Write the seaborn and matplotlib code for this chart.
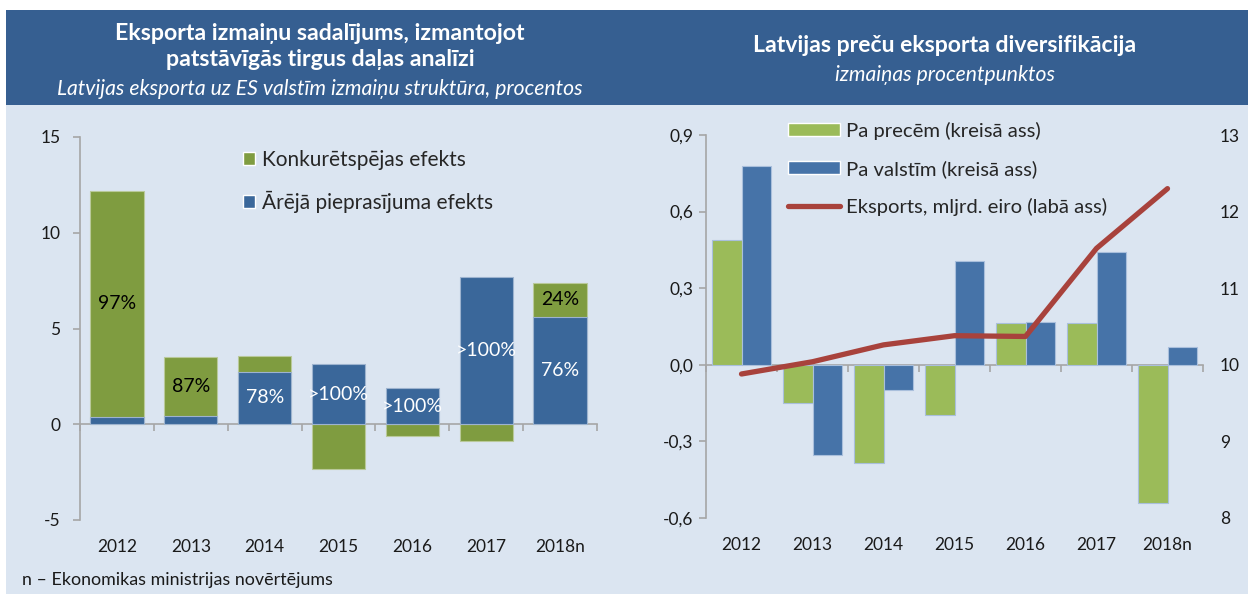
import numpy as np
import pandas as pd
import matplotlib.pyplot as plt
import seaborn as sns
from matplotlib.patches import Patch, Rectangle
from matplotlib.lines import Line2D
from matplotlib.ticker import FuncFormatter

# dati
gadi = ['2012', '2013', '2014', '2015', '2016', '2017', '2018n']

# kreisais grafiks: eksporta izmaiņu sadalījums
konkurētspēja = [11.8, 3.05, 0.8, -2.35, -0.6, -0.9, 1.8]
pieprasījums = [0.4, 0.45, 2.75, 3.15, 1.9, 7.7, 5.6]
zaļās_etiķetes = ['97%', '87%', '', '', '', '', '24%']
zilās_etiķetes = ['', '', '78%', '>100%', '>100%', '>100%', '76%']

# labais grafiks: diversifikācija
pa_precēm = [0.49, -0.15, -0.385, -0.196, 0.165, 0.165, -0.54]
pa_valstīm = [0.78, -0.352, -0.098, 0.408, 0.168, 0.44, 0.068]
eksports = [9.88, 10.04, 10.26, 10.38, 10.37, 11.52, 12.30]

# krāsas
HEADER = '#365F91'
FONS = '#DBE5F1'
ZAĻŠ_K = '#7F9C40'
ZILS_K = '#3A679A'
ZAĻŠ_L = '#9BBB59'
ZILS_L = '#4673A8'
SARKANS = '#A8423C'
PELĒKS = '#A6A6A6'
TEKSTS = '#1a1a1a'

sns.set_theme(style='white')
plt.rcParams['font.family'] = ['Lato', 'DejaVu Sans']
plt.rcParams['axes.unicode_minus'] = False

W, H = 1248, 594
fig = plt.figure(figsize=(W / 100, H / 100), dpi=100)
fig.patch.set_facecolor('white')

# fons un galvenes
fig.patches.append(Rectangle((6 / W, 0), 1 - 6 / W, 1 - 10 / H, transform=fig.transFigure,
                             facecolor=FONS, edgecolor='none', zorder=-10))
fig.patches.append(Rectangle((6 / W, 1 - 105 / H), 1 - 6 / W, 95 / H, transform=fig.transFigure,
                             facecolor=HEADER, edgecolor='none', zorder=-9))

fig.text(320 / W, 1 - 33 / H, 'Eksporta izmaiņu sadalījums, izmantojot', color='white',
         fontsize=16.7, fontweight='bold', ha='center', va='center')
fig.text(320 / W, 1 - 60 / H, 'patstāvīgās tirgus daļas analīzi', color='white',
         fontsize=16.7, fontweight='bold', ha='center', va='center')
fig.text(320 / W, 1 - 89 / H, 'Latvijas eksporta uz ES valstīm izmaiņu struktūra, procentos',
         color='white', fontsize=15.2, fontstyle='italic', ha='center', va='center')
fig.text(945 / W, 1 - 46 / H, 'Latvijas preču eksporta diversifikācija', color='white',
         fontsize=16.6, fontweight='bold', ha='center', va='center')
fig.text(945 / W, 1 - 75 / H, 'izmaiņas procentpunktos', color='white',
         fontsize=15.2, fontstyle='italic', ha='center', va='center')
fig.text(22 / W, 1 - 580 / H, 'n – Ekonomikas ministrijas novērtējums', color=TEKSTS,
         fontsize=12.9, ha='left', va='center')

# ---------- kreisais grafiks ----------
ax1 = fig.add_axes([80 / W, (H - 520) / H, 517 / W, 383 / H])
ax1.patch.set_alpha(0)

kopā = [b + g if g > 0 else g for b, g in zip(pieprasījums, konkurētspēja)]
df_k = pd.DataFrame({'gads': gadi, 'zaļš': kopā, 'zils': pieprasījums})
sns.barplot(data=df_k, x='gads', y='zaļš', color=ZAĻŠ_K, saturation=1, width=0.72,
            edgecolor='#B9C99A', linewidth=0.8, ax=ax1)
sns.barplot(data=df_k, x='gads', y='zils', color=ZILS_K, saturation=1, width=0.72,
            edgecolor='#9DB3CF', linewidth=0.8, ax=ax1)

for i, (b, g) in enumerate(zip(pieprasījums, konkurētspēja)):
    if zaļās_etiķetes[i]:
        ax1.text(i, b + g / 2, zaļās_etiķetes[i], ha='center', va='center', fontsize=14, color='black')
    if zilās_etiķetes[i]:
        ax1.text(i, b / 2, zilās_etiķetes[i], ha='center', va='center', fontsize=14, color='white')

ax1.set_xlim(-0.5, 6.5)
ax1.set_ylim(-5, 15)
ax1.set_yticks([-5, 0, 5, 10, 15])
ax1.set_xlabel('')
ax1.set_ylabel('')

legend_k = [Patch(facecolor=ZAĻŠ_K, label='Konkurētspējas efekts'),
            Patch(facecolor=ZILS_K, label='Ārējā pieprasījuma efekts')]
ax1.legend(handles=legend_k, loc='upper left', bbox_to_anchor=(0.315, 0.967), frameon=False,
           fontsize=15, handlelength=0.6, handleheight=0.6, handletextpad=0.3,
           labelspacing=1.0, borderaxespad=0, borderpad=0)

# ---------- labais grafiks ----------
ax2 = fig.add_axes([706 / W, (H - 518) / H, 497 / W, 383 / H])
ax2.patch.set_alpha(0)

df_l = pd.DataFrame({'gads': gadi * 2,
                     'rādītājs': ['Pa precēm'] * 7 + ['Pa valstīm'] * 7,
                     'vērtība': pa_precēm + pa_valstīm})
sns.barplot(data=df_l, x='gads', y='vērtība', hue='rādītājs', palette=[ZAĻŠ_L, ZILS_L],
            saturation=1, width=0.83, edgecolor='#A9BFDC', linewidth=0.8, legend=False, ax=ax2)
ax2.set_xlim(-0.5, 6.5)
ax2.set_ylim(-0.6, 0.9)
ax2.set_yticks([-0.6, -0.3, 0.0, 0.3, 0.6, 0.9])
ax2.yaxis.set_major_formatter(FuncFormatter(lambda v, p: f'{v:.1f}'.replace('.', ',')))
ax2.set_xlabel('')
ax2.set_ylabel('')

ax3 = ax2.twinx()
sns.lineplot(x=np.arange(len(gadi)), y=eksports, color=SARKANS, linewidth=3.8,
             solid_capstyle='round', ax=ax3)
ax3.set_ylim(8, 13)
ax3.set_yticks([8, 9, 10, 11, 12, 13])
ax3.set_xlim(-0.5, 6.5)
for s in ax3.spines.values():
    s.set_visible(False)
ax3.tick_params(axis='y', length=0, pad=12, labelsize=12.5, labelcolor=TEKSTS)

legend_l = [Patch(facecolor=ZAĻŠ_L, label='Pa precēm (kreisā ass)'),
            Patch(facecolor=ZILS_L, label='Pa valstīm (kreisā ass)'),
            Line2D([0], [0], color=SARKANS, lw=3.8, solid_capstyle='round',
                   label='Eksports, mljrd. eiro (labā ass)')]
ax3.legend(handles=legend_l, loc='upper left', bbox_to_anchor=(0.165, 1.035), frameon=False,
           fontsize=14.6, handlelength=2.55, handleheight=0.6, handletextpad=0.3,
           labelspacing=1.0, borderaxespad=0, borderpad=0)

# asu stils abiem grafikiem
for ax, nulle, pad_y in [(ax1, 0.25, 9), (ax2, 0.4, 4)]:
    for s in ['top', 'right', 'bottom']:
        ax.spines[s].set_visible(False)
    ax.spines['left'].set_color(PELĒKS)
    ax.spines['left'].set_linewidth(1.2)
    ax.tick_params(axis='y', direction='out', length=5, width=1.2, color=PELĒKS,
                   pad=pad_y, labelsize=12.5, labelcolor=TEKSTS, left=True)
    ax.tick_params(axis='x', length=0, pad=14, labelsize=12.5, labelcolor=TEKSTS)
    sec = ax.secondary_xaxis(nulle)
    sec.set_xticks(np.arange(-0.5, 7, 1))
    sec.set_xticklabels([])
    sec.tick_params(direction='out', length=5, width=1.2, color=PELĒKS)
    sec.spines['bottom'].set_color(PELĒKS)
    sec.spines['bottom'].set_linewidth(1.2)

fig.savefig('out.png', dpi=100)
